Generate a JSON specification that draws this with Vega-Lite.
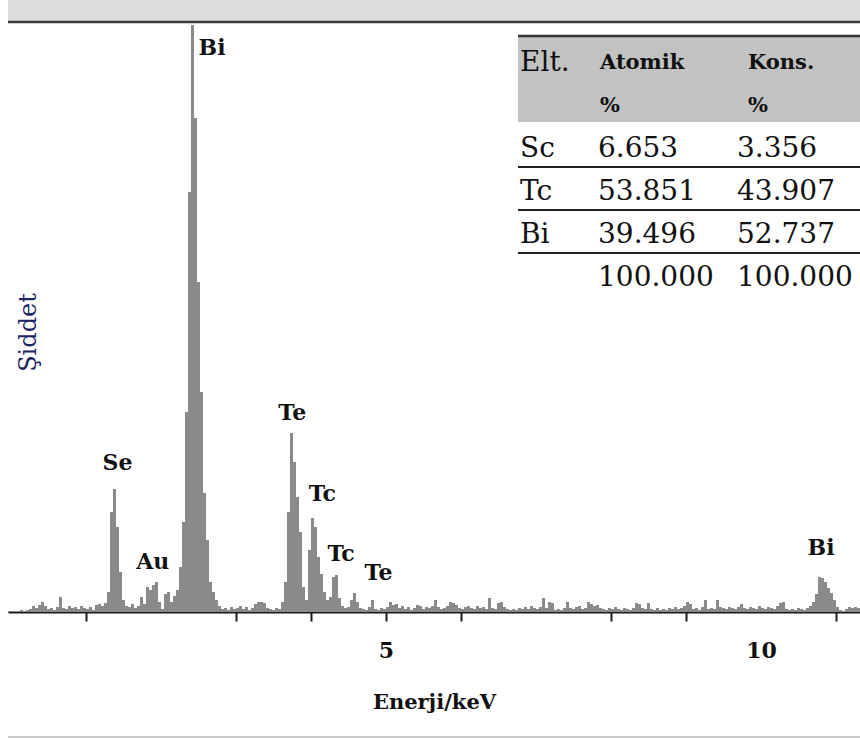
{
  "$schema": "https://vega.github.io/schema/vega-lite/v6.json",
  "width": 852,
  "height": 612,
  "autosize": {"type": "none"},
  "padding": {"left": 8, "top": 0, "right": 0, "bottom": 126},
  "background": "white",
  "config": {"view": {"stroke": null}, "font": "DejaVu Serif"},
  "datasets": {
    "spectrum": [
      {"e": -0.04, "c": 5}, {"e": 0, "c": 5}, {"e": 0.04, "c": 0}, {"e": 0.08, "c": 5}, {"e": 0.12, "c": 10}, {"e": 0.16, "c": 5}, {"e": 0.2, "c": 10}, {"e": 0.24, "c": 15}, {"e": 0.28, "c": 30}, {"e": 0.32, "c": 20},
      {"e": 0.36, "c": 35}, {"e": 0.4, "c": 50}, {"e": 0.44, "c": 30}, {"e": 0.48, "c": 15}, {"e": 0.52, "c": 20}, {"e": 0.56, "c": 10}, {"e": 0.6, "c": 25}, {"e": 0.64, "c": 75}, {"e": 0.68, "c": 20}, {"e": 0.72, "c": 15},
      {"e": 0.76, "c": 30}, {"e": 0.8, "c": 20}, {"e": 0.84, "c": 25}, {"e": 0.88, "c": 15}, {"e": 0.92, "c": 30}, {"e": 0.96, "c": 20}, {"e": 1, "c": 15}, {"e": 1.04, "c": 25}, {"e": 1.08, "c": 10}, {"e": 1.12, "c": 35},
      {"e": 1.16, "c": 40}, {"e": 1.2, "c": 30}, {"e": 1.24, "c": 45}, {"e": 1.28, "c": 100}, {"e": 1.32, "c": 500}, {"e": 1.36, "c": 615}, {"e": 1.4, "c": 425}, {"e": 1.44, "c": 200}, {"e": 1.48, "c": 60}, {"e": 1.52, "c": 30},
      {"e": 1.56, "c": 25}, {"e": 1.6, "c": 40}, {"e": 1.64, "c": 20}, {"e": 1.68, "c": 30}, {"e": 1.72, "c": 75}, {"e": 1.76, "c": 40}, {"e": 1.8, "c": 125}, {"e": 1.84, "c": 110}, {"e": 1.88, "c": 135}, {"e": 1.92, "c": 150},
      {"e": 1.96, "c": 50}, {"e": 2, "c": 15}, {"e": 2.04, "c": 90}, {"e": 2.08, "c": 100}, {"e": 2.12, "c": 50}, {"e": 2.16, "c": 80}, {"e": 2.2, "c": 110}, {"e": 2.24, "c": 225}, {"e": 2.28, "c": 450}, {"e": 2.32, "c": 1000},
      {"e": 2.36, "c": 2100}, {"e": 2.4, "c": 2935}, {"e": 2.44, "c": 2470}, {"e": 2.48, "c": 1650}, {"e": 2.52, "c": 1100}, {"e": 2.56, "c": 595}, {"e": 2.6, "c": 360}, {"e": 2.64, "c": 150}, {"e": 2.68, "c": 100}, {"e": 2.72, "c": 60},
      {"e": 2.76, "c": 30}, {"e": 2.8, "c": 15}, {"e": 2.84, "c": 20}, {"e": 2.88, "c": 10}, {"e": 2.92, "c": 25}, {"e": 2.96, "c": 15}, {"e": 3, "c": 20}, {"e": 3.04, "c": 30}, {"e": 3.08, "c": 15}, {"e": 3.12, "c": 25},
      {"e": 3.16, "c": 10}, {"e": 3.2, "c": 20}, {"e": 3.24, "c": 40}, {"e": 3.28, "c": 50}, {"e": 3.32, "c": 50}, {"e": 3.36, "c": 45}, {"e": 3.4, "c": 20}, {"e": 3.44, "c": 15}, {"e": 3.48, "c": 10}, {"e": 3.52, "c": 20},
      {"e": 3.56, "c": 15}, {"e": 3.6, "c": 50}, {"e": 3.64, "c": 150}, {"e": 3.68, "c": 500}, {"e": 3.72, "c": 895}, {"e": 3.76, "c": 750}, {"e": 3.8, "c": 575}, {"e": 3.84, "c": 400}, {"e": 3.88, "c": 125}, {"e": 3.92, "c": 60},
      {"e": 3.96, "c": 310}, {"e": 4, "c": 470}, {"e": 4.04, "c": 425}, {"e": 4.08, "c": 275}, {"e": 4.12, "c": 190}, {"e": 4.16, "c": 100}, {"e": 4.2, "c": 60}, {"e": 4.24, "c": 75}, {"e": 4.28, "c": 175}, {"e": 4.32, "c": 185},
      {"e": 4.36, "c": 70}, {"e": 4.4, "c": 30}, {"e": 4.44, "c": 20}, {"e": 4.48, "c": 25}, {"e": 4.52, "c": 60}, {"e": 4.56, "c": 95}, {"e": 4.6, "c": 50}, {"e": 4.64, "c": 20}, {"e": 4.68, "c": 15}, {"e": 4.72, "c": 10},
      {"e": 4.76, "c": 25}, {"e": 4.8, "c": 60}, {"e": 4.84, "c": 15}, {"e": 4.88, "c": 10}, {"e": 4.92, "c": 20}, {"e": 4.96, "c": 15}, {"e": 5, "c": 25}, {"e": 5.04, "c": 50}, {"e": 5.08, "c": 35}, {"e": 5.12, "c": 40},
      {"e": 5.16, "c": 20}, {"e": 5.2, "c": 30}, {"e": 5.24, "c": 15}, {"e": 5.28, "c": 25}, {"e": 5.32, "c": 10}, {"e": 5.36, "c": 20}, {"e": 5.4, "c": 35}, {"e": 5.44, "c": 30}, {"e": 5.48, "c": 15}, {"e": 5.52, "c": 25},
      {"e": 5.56, "c": 20}, {"e": 5.6, "c": 30}, {"e": 5.64, "c": 60}, {"e": 5.68, "c": 25}, {"e": 5.72, "c": 15}, {"e": 5.76, "c": 20}, {"e": 5.8, "c": 30}, {"e": 5.84, "c": 50}, {"e": 5.88, "c": 45}, {"e": 5.92, "c": 35},
      {"e": 5.96, "c": 20}, {"e": 6, "c": 15}, {"e": 6.04, "c": 25}, {"e": 6.08, "c": 30}, {"e": 6.12, "c": 20}, {"e": 6.16, "c": 15}, {"e": 6.2, "c": 30}, {"e": 6.24, "c": 20}, {"e": 6.28, "c": 25}, {"e": 6.32, "c": 15},
      {"e": 6.36, "c": 70}, {"e": 6.4, "c": 20}, {"e": 6.44, "c": 15}, {"e": 6.48, "c": 45}, {"e": 6.52, "c": 50}, {"e": 6.56, "c": 25}, {"e": 6.6, "c": 15}, {"e": 6.64, "c": 10}, {"e": 6.68, "c": 15}, {"e": 6.72, "c": 10},
      {"e": 6.76, "c": 20}, {"e": 6.8, "c": 15}, {"e": 6.84, "c": 25}, {"e": 6.88, "c": 15}, {"e": 6.92, "c": 30}, {"e": 6.96, "c": 20}, {"e": 7, "c": 15}, {"e": 7.04, "c": 25}, {"e": 7.08, "c": 70}, {"e": 7.12, "c": 20},
      {"e": 7.16, "c": 50}, {"e": 7.2, "c": 45}, {"e": 7.24, "c": 10}, {"e": 7.28, "c": 15}, {"e": 7.32, "c": 10}, {"e": 7.36, "c": 20}, {"e": 7.4, "c": 50}, {"e": 7.44, "c": 20}, {"e": 7.48, "c": 15}, {"e": 7.52, "c": 25},
      {"e": 7.56, "c": 30}, {"e": 7.6, "c": 15}, {"e": 7.64, "c": 20}, {"e": 7.68, "c": 50}, {"e": 7.72, "c": 40}, {"e": 7.76, "c": 30}, {"e": 7.8, "c": 35}, {"e": 7.84, "c": 20}, {"e": 7.88, "c": 15}, {"e": 7.92, "c": 10},
      {"e": 7.96, "c": 20}, {"e": 8, "c": 15}, {"e": 8.04, "c": 25}, {"e": 8.08, "c": 15}, {"e": 8.12, "c": 10}, {"e": 8.16, "c": 20}, {"e": 8.2, "c": 15}, {"e": 8.24, "c": 10}, {"e": 8.28, "c": 20}, {"e": 8.32, "c": 45},
      {"e": 8.36, "c": 40}, {"e": 8.4, "c": 20}, {"e": 8.44, "c": 15}, {"e": 8.48, "c": 45}, {"e": 8.52, "c": 15}, {"e": 8.56, "c": 10}, {"e": 8.6, "c": 20}, {"e": 8.64, "c": 10}, {"e": 8.68, "c": 15}, {"e": 8.72, "c": 10},
      {"e": 8.76, "c": 20}, {"e": 8.8, "c": 15}, {"e": 8.84, "c": 25}, {"e": 8.88, "c": 15}, {"e": 8.92, "c": 20}, {"e": 8.96, "c": 30}, {"e": 9, "c": 50}, {"e": 9.04, "c": 40}, {"e": 9.08, "c": 15}, {"e": 9.12, "c": 20},
      {"e": 9.16, "c": 10}, {"e": 9.2, "c": 25}, {"e": 9.24, "c": 60}, {"e": 9.28, "c": 15}, {"e": 9.32, "c": 20}, {"e": 9.36, "c": 15}, {"e": 9.4, "c": 60}, {"e": 9.44, "c": 25}, {"e": 9.48, "c": 20}, {"e": 9.52, "c": 15},
      {"e": 9.56, "c": 25}, {"e": 9.6, "c": 20}, {"e": 9.64, "c": 15}, {"e": 9.68, "c": 25}, {"e": 9.72, "c": 40}, {"e": 9.76, "c": 20}, {"e": 9.8, "c": 15}, {"e": 9.84, "c": 25}, {"e": 9.88, "c": 20}, {"e": 9.92, "c": 15},
      {"e": 9.96, "c": 30}, {"e": 10, "c": 20}, {"e": 10.04, "c": 15}, {"e": 10.08, "c": 25}, {"e": 10.12, "c": 20}, {"e": 10.16, "c": 15}, {"e": 10.2, "c": 30}, {"e": 10.24, "c": 45}, {"e": 10.28, "c": 50}, {"e": 10.32, "c": 15},
      {"e": 10.36, "c": 10}, {"e": 10.4, "c": 15}, {"e": 10.44, "c": 10}, {"e": 10.48, "c": 20}, {"e": 10.52, "c": 15}, {"e": 10.56, "c": 10}, {"e": 10.6, "c": 20}, {"e": 10.64, "c": 30}, {"e": 10.68, "c": 50}, {"e": 10.72, "c": 90},
      {"e": 10.76, "c": 175}, {"e": 10.8, "c": 170}, {"e": 10.84, "c": 150}, {"e": 10.88, "c": 120}, {"e": 10.92, "c": 95}, {"e": 10.96, "c": 60}, {"e": 11, "c": 25}, {"e": 11.04, "c": 10}, {"e": 11.08, "c": 5}, {"e": 11.12, "c": 15},
      {"e": 11.16, "c": 25}, {"e": 11.2, "c": 20}, {"e": 11.24, "c": 25}, {"e": 11.28, "c": 20}, {"e": 11.32, "c": 20}
    ],
    "peaks": [
      {"label": "Bi", "e": 2.68, "c": 2820},
      {"label": "Se", "e": 1.42, "c": 745},
      {"label": "Au", "e": 1.89, "c": 250},
      {"label": "Te", "e": 3.75, "c": 995},
      {"label": "Tc", "e": 4.15, "c": 590},
      {"label": "Tc", "e": 4.4, "c": 290},
      {"label": "Te", "e": 4.9, "c": 195},
      {"label": "Bi", "e": 10.8, "c": 320}
    ],
    "composition": [
      {"r": 0, "elt": "Elt.", "atomik": "Atomik", "kons": "Kons."},
      {"r": 1, "elt": "", "atomik": "%", "kons": "%"},
      {"r": 2, "elt": "Sc", "atomik": "6.653", "kons": "3.356"},
      {"r": 3, "elt": "Tc", "atomik": "53.851", "kons": "43.907"},
      {"r": 4, "elt": "Bi", "atomik": "39.496", "kons": "52.737"},
      {"r": 5, "elt": "", "atomik": "100.000", "kons": "100.000"}
    ]
  },
  "layer": [
    {
      "layer": [
        {
          "data": {"values": [{}]},
          "mark": {"type": "rect", "color": "#dcdcdc"},
          "encoding": {
            "x": {"datum": -0.04, "type": "quantitative"},
            "x2": {"datum": 11.32},
            "y": {"datum": 2955, "type": "quantitative"},
            "y2": {"datum": 3060}
          }
        },
        {
          "data": {"name": "spectrum"},
          "mark": {"type": "area", "interpolate": "step-after", "color": "#8a8a8a"},
          "encoding": {
            "x": {
              "field": "e",
              "type": "quantitative",
              "scale": {"domain": [-0.04, 11.32], "nice": false, "zero": false},
              "axis": {
                "values": [1, 2, 3, 4, 5, 6, 7, 8, 9, 10, 11],
                "format": "d",
                "labelExpr": "datum.value == 5 || datum.value == 10 ? datum.label : ''",
                "tickOpacity": {"condition": {"test": "datum.value == 2 || datum.value == 7 || datum.value == 10", "value": 0}, "value": 1},
                "grid": false,
                "domainColor": "#1a1a1a",
                "domainWidth": 2,
                "tickColor": "#1a1a1a",
                "tickWidth": 2,
                "tickSize": 9,
                "labelFont": "DejaVu Serif",
                "labelFontWeight": "bold",
                "labelFontSize": 22,
                "labelColor": "#111111",
                "labelPadding": 19,
                "labelFlush": false,
                "labelOverlap": false,
                "title": "Enerji/keV",
                "titleFont": "DejaVu Serif",
                "titleFontWeight": "bold",
                "titleFontSize": 21,
                "titleColor": "#111111",
                "titlePadding": 30
              }
            },
            "y": {
              "field": "c",
              "type": "quantitative",
              "scale": {"domain": [0, 3060], "nice": false},
              "axis": {
                "domain": false,
                "ticks": false,
                "labels": false,
                "grid": false,
                "title": "Şiddet",
                "titleFont": "DejaVu Serif",
                "titleFontSize": 24,
                "titleFontWeight": "normal",
                "titleColor": "#1c2462",
                "titleAngle": -90,
                "titleAlign": "center",
                "titleBaseline": "middle",
                "titleX": 20,
                "titleY": 332
              }
            }
          }
        },
        {
          "data": {"values": [{}]},
          "mark": {"type": "rule", "color": "#3c3c3c", "strokeWidth": 2.5},
          "encoding": {
            "x": {"datum": -0.04, "type": "quantitative"},
            "x2": {"datum": 11.32},
            "y": {"datum": 2950, "type": "quantitative"}
          }
        },
        {
          "data": {"values": [{}]},
          "mark": {"type": "rule", "color": "#b8b8b8", "strokeWidth": 1.5},
          "encoding": {
            "x": {"datum": -0.04, "type": "quantitative"},
            "x2": {"datum": 11.32},
            "y": {"datum": -625, "type": "quantitative"}
          }
        },
        {
          "data": {"name": "peaks"},
          "mark": {"type": "text", "font": "DejaVu Serif", "fontWeight": "bold", "fontSize": 22, "color": "#111111", "align": "center", "baseline": "middle"},
          "encoding": {
            "x": {"field": "e", "type": "quantitative"},
            "y": {"field": "c", "type": "quantitative"},
            "text": {"field": "label"}
          }
        }
      ]
    },
    {
      "data": {"name": "composition"},
      "layer": [
        {
          "data": {"values": [{}]},
          "mark": {"type": "rect", "color": "#c2c2c2"},
          "encoding": {
            "x": {"datum": 6.76, "type": "quantitative"},
            "x2": {"datum": 11.32},
            "y": {"datum": -0.63, "type": "quantitative", "scale": {"domain": [-1.4651, 12.7674], "nice": false, "zero": false, "reverse": true}, "axis": null},
            "y2": {"datum": 1.37}
          }
        },
        {
          "data": {"values": [{}]},
          "mark": {"type": "rule", "color": "#333333", "strokeWidth": 2.5},
          "encoding": {
            "x": {"datum": 6.76, "type": "quantitative"},
            "x2": {"datum": 11.32},
            "y": {"datum": -0.63, "type": "quantitative", "axis": null}
          }
        },
        {
          "transform": [{"filter": "datum.r >= 2 && datum.r <= 4"}],
          "mark": {"type": "rule", "color": "#222222", "strokeWidth": 2, "yOffset": 18},
          "encoding": {
            "x": {"datum": 6.76, "type": "quantitative"},
            "x2": {"datum": 11.32},
            "y": {"field": "r", "type": "quantitative", "axis": null}
          }
        },
        {
          "mark": {"type": "text", "font": "DejaVu Serif", "fontSize": 28, "color": "#111111", "align": "left", "baseline": "middle"},
          "encoding": {
            "x": {"datum": 6.787, "type": "quantitative"},
            "y": {"field": "r", "type": "quantitative", "axis": null},
            "text": {"field": "elt"}
          }
        },
        {
          "transform": [{"filter": "datum.r >= 2"}],
          "mark": {"type": "text", "font": "DejaVu Serif", "fontSize": 28, "color": "#111111", "align": "left", "baseline": "middle"},
          "encoding": {
            "x": {"datum": 7.827, "type": "quantitative"},
            "y": {"field": "r", "type": "quantitative", "axis": null},
            "text": {"field": "atomik"}
          }
        },
        {
          "transform": [{"filter": "datum.r >= 2"}],
          "mark": {"type": "text", "font": "DejaVu Serif", "fontSize": 28, "color": "#111111", "align": "left", "baseline": "middle"},
          "encoding": {
            "x": {"datum": 9.68, "type": "quantitative"},
            "y": {"field": "r", "type": "quantitative", "axis": null},
            "text": {"field": "kons"}
          }
        },
        {
          "transform": [{"filter": "datum.r < 2"}],
          "mark": {"type": "text", "font": "DejaVu Serif", "fontWeight": "bold", "fontSize": 21, "color": "#111111", "align": "left", "baseline": "middle"},
          "encoding": {
            "x": {"datum": 7.853, "type": "quantitative"},
            "y": {"field": "r", "type": "quantitative", "axis": null},
            "text": {"field": "atomik"}
          }
        },
        {
          "transform": [{"filter": "datum.r < 2"}],
          "mark": {"type": "text", "font": "DejaVu Serif", "fontWeight": "bold", "fontSize": 21, "color": "#111111", "align": "left", "baseline": "middle"},
          "encoding": {
            "x": {"datum": 9.827, "type": "quantitative"},
            "y": {"field": "r", "type": "quantitative", "axis": null},
            "text": {"field": "kons"}
          }
        }
      ]
    }
  ],
  "resolve": {"scale": {"y": "independent"}}
}
